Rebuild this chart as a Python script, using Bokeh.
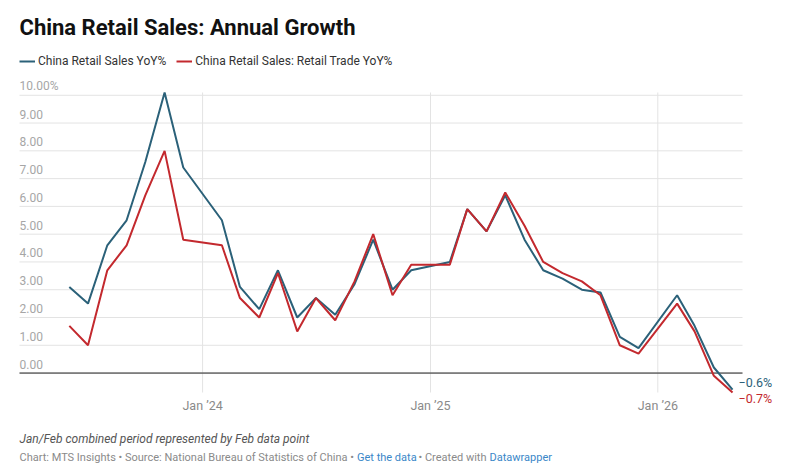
# China retail sales line chart, Datawrapper style, rebuilt in Bokeh.
# Jan/Feb are reported together, so there is no January point.
# The frame fills the whole canvas; the chart area is a sub-box of it.

import pandas as pd
from bokeh.plotting import figure
from bokeh.models import ColumnDataSource, Range1d, Legend, LegendItem, Label
from bokeh.core.properties import value
from bokeh.embed import file_html
from bokeh.resources import INLINE

# data
months = ["2023-06", "2023-07", "2023-08", "2023-09", "2023-10", "2023-11", "2023-12",
          "2024-02", "2024-03", "2024-04", "2024-05", "2024-06", "2024-07", "2024-08",
          "2024-09", "2024-10", "2024-11", "2024-12",
          "2025-02", "2025-03", "2025-04", "2025-05", "2025-06", "2025-07", "2025-08",
          "2025-09", "2025-10", "2025-11", "2025-12",
          "2026-02", "2026-03", "2026-04", "2026-05"]
retail_sales = [3.1, 2.5, 4.6, 5.5, 7.6, 10.1, 7.4,
                5.5, 3.1, 2.3, 3.7, 2.0, 2.7, 2.1, 3.2, 4.8, 3.0, 3.7,
                4.0, 5.9, 5.1, 6.4, 4.8, 3.7, 3.4, 3.0, 2.9, 1.3, 0.9,
                2.8, 1.7, 0.2, -0.6]
retail_trade = [1.7, 1.0, 3.7, 4.6, 6.4, 8.0, 4.8,
                4.6, 2.7, 2.0, 3.6, 1.5, 2.7, 1.9, 3.3, 5.0, 2.8, 3.9,
                3.9, 5.9, 5.1, 6.5, 5.3, 4.0, 3.6, 3.3, 2.8, 1.0, 0.7,
                2.5, 1.5, -0.1, -0.7]
y_ticks = [0, 1, 2, 3, 4, 5, 6, 7, 8, 9, 10]
y_tick_labels = ["0.00", "1.00", "2.00", "3.00", "4.00", "5.00",
                 "6.00", "7.00", "8.00", "9.00", "10.00%"]
x_ticks = ["2024-01-01", "2025-01-01", "2026-01-01"]
x_tick_labels = ["Jan \u201924", "Jan \u201925", "Jan \u201926"]

BLUE = "#2b6179"
RED = "#c3292e"
GRID = "#e3e3e3"
FONT = "Roboto"

W, H = 794, 474
# chart area in pixels and its data bounds
AREA_L, AREA_R, AREA_T, AREA_B = 19, 742, 92, 392
x_start, x_end = pd.Timestamp("2023-03-13"), pd.Timestamp("2026-05-17")
y_min, y_max = -0.7, 10.1

dx = (x_end - x_start) / (AREA_R - AREA_L)
dy = (y_max - y_min) / (AREA_B - AREA_T)
x_range = Range1d(x_start - AREA_L * dx, x_start + (W - AREA_L) * dx)
y_range = Range1d(y_min - (H - AREA_B) * dy, y_max + AREA_T * dy)

dates = pd.to_datetime(months)
src = ColumnDataSource(dict(date=dates, sales=retail_sales, trade=retail_trade))

p = figure(width=W, height=H, x_axis_type=None, y_axis_type=None,
           x_range=x_range, y_range=y_range,
           output_backend="svg", toolbar_location=None, min_border=0)
p.outline_line_color = None
p.grid.visible = False

# gridlines
xt = pd.to_datetime(x_ticks)
p.segment(x0=[x_start] * len(y_ticks), x1=[x_end] * len(y_ticks), y0=y_ticks, y1=y_ticks,
          line_color=GRID, line_width=1)
p.segment(x0=xt, x1=xt, y0=[y_min] * len(xt), y1=[y_max] * len(xt),
          line_color=GRID, line_width=1)
p.segment(x0=[x_start], x1=[x_end], y0=[0], y1=[0], line_color="#222222", line_width=1)

# tick labels
p.text(x=[x_start] * len(y_ticks), y=y_ticks, text=y_tick_labels, text_font=value(FONT),
       text_font_size="12px", text_color="#a6a6a6", text_baseline="middle",
       text_align="left", y_offset=-9)
p.text(x=xt, y=[y_min] * len(xt), text=x_tick_labels, text_font=value(FONT),
       text_font_size="12.5px", text_color="#8a8a8a", text_baseline="middle",
       text_align="center", y_offset=13)

r1 = p.line("date", "sales", source=src, line_color=BLUE, line_width=2)
r2 = p.line("date", "trade", source=src, line_color=RED, line_width=2)

# end labels
p.text(x=[dates[-1]], y=[retail_sales[-1]], text=["\u2212%.1f%%" % abs(retail_sales[-1])],
       text_font=value(FONT), text_font_size="12.5px", text_color=BLUE,
       text_baseline="middle", x_offset=6, y_offset=-7)
p.text(x=[dates[-1]], y=[retail_trade[-1]], text=["\u2212%.1f%%" % abs(retail_trade[-1])],
       text_font=value(FONT), text_font_size="12.5px", text_color=RED,
       text_baseline="middle", x_offset=6, y_offset=6)

legend = Legend(items=[LegendItem(label="China Retail Sales YoY%", renderers=[r1]),
                       LegendItem(label="China Retail Sales: Retail Trade YoY%", renderers=[r2])],
                orientation="horizontal", location=(19, H - 69))
legend.border_line_color = None
legend.background_fill_alpha = 0
legend.padding = 0
legend.margin = 0
legend.spacing = 10
legend.label_standoff = 3
legend.glyph_width = 16
legend.glyph_height = 16
legend.label_height = 16
legend.label_text_font = FONT
legend.label_text_font_size = "12px"
legend.label_text_color = "#333333"
p.add_layout(legend)

# title and footer
p.add_layout(Label(x=19, y=H - 27, x_units="screen", y_units="screen",
                   text="China Retail Sales: Annual Growth", text_font=FONT,
                   text_font_size="22px", text_font_style="bold", text_color="#111111",
                   text_baseline="middle"))
p.add_layout(Label(x=19, y=H - 438, x_units="screen", y_units="screen",
                   text="Jan/Feb combined period represented by Feb data point",
                   text_font=FONT, text_font_size="12px", text_font_style="italic",
                   text_color="#555555", text_baseline="middle"))
# svg drops leading/trailing spaces, so pieces carry none
footer = [("Chart: MTS Insights \u2022 Source: National Bureau of Statistics of China \u2022", 19, "#8a8a8a"),
          ("Get the data", 356.5, "#3a87c8"),
          ("\u2022 Created with", 418, "#8a8a8a"),
          ("Datawrapper", 489, "#3a87c8")]
for txt, xpos, col in footer:
    p.add_layout(Label(x=xpos, y=H - 457, x_units="screen", y_units="screen", text=txt,
                       text_font=FONT, text_font_size="11px", text_color=col,
                       text_baseline="middle"))

open("out.html", "w").write(file_html(p, INLINE))
